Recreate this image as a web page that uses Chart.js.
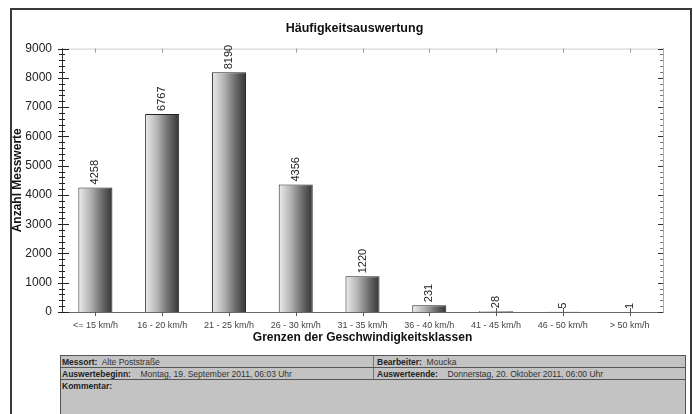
<!DOCTYPE html>
<html>
<head>
<meta charset="utf-8">
<script src="https://cdn.jsdelivr.net/npm/chart.js@4.4.1/dist/chart.umd.min.js"></script>
<style>
  html, body { margin: 0; padding: 0; background: #fff; }
  #wrap { position: relative; width: 693px; height: 414px; overflow: hidden; background: #fff; font-family: "Liberation Sans", Arial, sans-serif; }
  #c { position: absolute; left: 0; top: 0; }
  #frame { position: absolute; left: 10px; top: 8px; width: 678px; height: 420px; border: 2px solid #3a3a3a; pointer-events: none; }
  #info { position: absolute; left: 60px; top: 355px; width: 626px; height: 70px; background: #c3c3c3; border: 1px solid #555; box-sizing: border-box; font-size: 8.5px; color: #333; }
  .row { position: absolute; left: 0; width: 100%; height: 12px; line-height: 12px; border-bottom: 1px solid #555; box-sizing: border-box; }
  .cell { position: absolute; top: 0; height: 100%; white-space: nowrap; }
  .divider { border-left: 1px solid #777; }
  b { color: #222; }
</style>
</head>
<body>
<div id="wrap">
  <canvas id="c" width="693" height="414"></canvas>
  <div id="frame"></div>
  <div id="info">
    <div class="row" style="top:0">
      <div class="cell" style="left:1px"><b>Messort:</b>&nbsp; Alte Poststraße</div>
      <div class="cell divider" style="left:312px; padding-left:3px"><b>Bearbeiter:</b>&nbsp; Moucka</div>
    </div>
    <div class="row" style="top:12px">
      <div class="cell" style="left:1px"><b>Auswertebeginn:</b>&nbsp;&nbsp;&nbsp; Montag, 19. September 2011, 06:03 Uhr</div>
      <div class="cell divider" style="left:312px; padding-left:3px"><b>Auswerteende:</b>&nbsp;&nbsp;&nbsp; Donnerstag, 20. Oktober 2011, 06:00 Uhr</div>
    </div>
    <div class="row" style="top:24px; border-bottom:none">
      <div class="cell" style="left:1px"><b>Kommentar:</b></div>
    </div>
  </div>
</div>
<script>
const categories = ['<= 15 km/h', '16 - 20 km/h', '21 - 25 km/h', '26 - 30 km/h', '31 - 35 km/h', '36 - 40 km/h', '41 - 45 km/h', '46 - 50 km/h', '> 50 km/h'];
const counts = [4258, 6767, 8190, 4356, 1220, 231, 28, 5, 1];
const yMin = 0;
const yMax = 9000;
const yMajorStep = 1000;
const yMinorStep = 200;
const chartTitle = 'Häufigkeitsauswertung';
const xTitle = 'Grenzen der Geschwindigkeitsklassen';
const yTitle = 'Anzahl Messwerte';

const FONT = '"Liberation Sans", Arial, sans-serif';
const BAR_PCT = 0.51;

function barGradient(context) {
  const chart = context.chart;
  const xs = chart.scales && chart.scales.x;
  if (context.dataIndex === undefined || !xs || !chart.chartArea) return '#888';
  const cx = xs.getPixelForValue(context.dataIndex);
  const step = xs.getPixelForValue(1) - xs.getPixelForValue(0);
  const w = step * BAR_PCT;
  const g = chart.ctx.createLinearGradient(cx - w / 2, 0, cx + w / 2, 0);
  g.addColorStop(0, '#ececec');
  g.addColorStop(0.35, '#b4b4b4');
  g.addColorStop(0.7, '#6a6a6a');
  g.addColorStop(1, '#343434');
  return g;
}

const axisDecor = {
  id: 'axisDecor',
  beforeDatasetsDraw(chart) {
    const { ctx, chartArea: a } = chart;
    const xs = chart.scales.x;
    ctx.save();
    // top frame line
    ctx.strokeStyle = '#cfcfcf';
    ctx.lineWidth = 1;
    ctx.beginPath();
    ctx.moveTo(a.left, a.top + 0.5);
    ctx.lineTo(a.right, a.top + 0.5);
    ctx.stroke();
    // category ticks (bottom crossing and top inward)
    ctx.strokeStyle = '#555';
    xs.ticks.forEach((t, i) => {
      const px = Math.round(xs.getPixelForTick(i)) + 0.5;
      ctx.beginPath();
      ctx.moveTo(px, a.bottom - 4);
      ctx.lineTo(px, a.bottom + 4);
      ctx.stroke();
      ctx.beginPath();
      ctx.strokeStyle = '#999';
      ctx.moveTo(px, a.top);
      ctx.lineTo(px, a.top + 4);
      ctx.stroke();
      ctx.strokeStyle = '#555';
    });
    ctx.restore();
  },
  afterDatasetsDraw(chart) {
    const { ctx } = chart;
    const meta = chart.getDatasetMeta(0);
    ctx.save();
    ctx.font = '11px ' + FONT;
    ctx.fillStyle = '#222';
    ctx.textAlign = 'left';
    ctx.textBaseline = 'middle';
    meta.data.forEach((el, i) => {
      ctx.save();
      ctx.translate(el.x, el.y - 3);
      ctx.rotate(-Math.PI / 2);
      ctx.fillText(String(counts[i]), 0, 0);
      ctx.restore();
    });
    ctx.restore();
  },
  afterDraw(chart) {
    const { ctx } = chart;
    const ys = chart.scales.y;
    const y2 = chart.scales.y2;
    ctx.save();
    ctx.lineWidth = 1;
    ys.ticks.forEach((t, i) => {
      const py = Math.round(ys.getPixelForValue(t.value)) + 0.5;
      const major = Math.round(t.value) % yMajorStep === 0;
      const x = ys.right;
      ctx.strokeStyle = '#222';
      ctx.beginPath();
      ctx.moveTo(x - (major ? 4 : 3), py);
      ctx.lineTo(x + (major ? 7 : 3), py);
      ctx.stroke();
    });
    y2.ticks.forEach((t, i) => {
      const py = Math.round(y2.getPixelForValue(t.value)) + 0.5;
      const major = Math.round(t.value) % yMajorStep === 0;
      const x = y2.left;
      ctx.strokeStyle = major ? '#333' : '#777';
      ctx.beginPath();
      ctx.moveTo(x - (major ? 5 : 3), py);
      ctx.lineTo(x, py);
      ctx.stroke();
    });
    ctx.restore();
  }
};

new Chart(document.getElementById('c'), {
  type: 'bar',
  data: {
    labels: categories,
    datasets: [{
      data: counts,
      backgroundColor: barGradient,
      borderColor: '#222',
      borderWidth: 1,
      borderSkipped: 'bottom',
      barPercentage: BAR_PCT,
      categoryPercentage: 1
    }]
  },
  options: {
    responsive: false,
    devicePixelRatio: 1,
    animation: false,
    layout: { padding: { left: 16, right: 0, top: 20.8, bottom: 62 } },
    plugins: {
      legend: { display: false },
      tooltip: { enabled: false },
      title: {
        display: true,
        text: chartTitle,
        color: '#111',
        font: { family: FONT, size: 12.5, weight: 'bold', lineHeight: 1.2 },
        padding: { top: 0, bottom: 12.8 }
      }
    },
    scales: {
      x: {
        type: 'category',
        position: 'bottom',
        grid: { display: false, drawTicks: false },
        border: { display: true, color: '#666', width: 1 },
        ticks: { font: { family: FONT, size: 9 }, color: '#444', padding: 8, maxRotation: 0, autoSkip: false },
        title: {
          display: true, text: xTitle, color: '#111',
          font: { family: FONT, size: 12, weight: 'bold', lineHeight: 1.2 },
          padding: { top: 0, bottom: 6.8 }
        },
        afterFit(s) { s.height = 40; }
      },
      y: {
        position: 'left',
        min: yMin, max: yMax,
        grid: { display: false, drawTicks: false },
        border: { display: true, color: '#333', width: 1 },
        ticks: {
          stepSize: yMinorStep, autoSkip: false,
          font: { family: FONT, size: 12 }, color: '#222', padding: 10,
          callback: (v) => (Math.round(v) % yMajorStep === 0 ? String(Math.round(v)) : '')
        },
        title: {
          display: true, text: yTitle, color: '#111',
          font: { family: FONT, size: 12, weight: 'bold', lineHeight: 1.2 },
          padding: { top: -5.2, bottom: 0 }
        },
        afterFit(s) { s.width = 46; }
      },
      y2: {
        position: 'right',
        min: yMin, max: yMax,
        grid: { display: false, drawTicks: false },
        border: { display: true, color: '#aaa', width: 1 },
        ticks: { display: false, stepSize: yMinorStep, autoSkip: false },
        afterFit(s) { s.width = 30; }
      }
    }
  },
  plugins: [axisDecor]
});
</script>
</body>
</html>
